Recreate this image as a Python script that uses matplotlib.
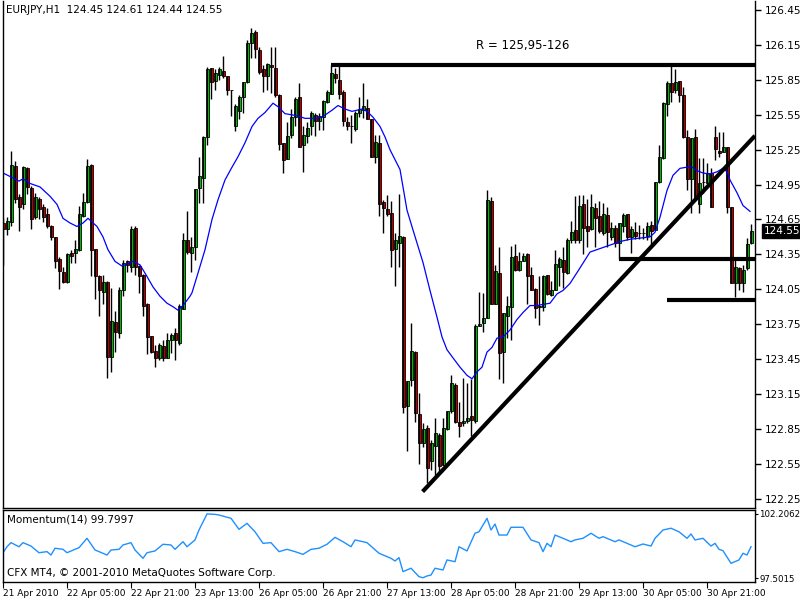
import matplotlib
matplotlib.use("Agg")
import matplotlib.pyplot as plt
import matplotlib.transforms as mtransforms
import numpy as np

plt.rcParams['font.family'] = ['Liberation Sans Narrow', 'DejaVu Sans']

# EURJPY H1 candles
opens = [124.62, 124.57, 124.63, 125.11, 124.84, 124.78, 125.09, 124.92, 124.67, 124.83,
         124.76, 124.70, 124.59, 124.50, 124.31, 124.20, 124.11, 124.36, 124.36, 124.39,
         124.68, 124.80, 125.12, 124.40, 124.16, 124.03, 124.11, 123.47, 123.77, 123.67,
         124.04, 124.29, 124.24, 124.58, 124.25, 124.17, 123.92, 123.65, 123.52, 123.46,
         123.56, 123.46, 123.61, 123.67, 123.59, 123.88, 124.47, 124.36, 124.41, 124.92,
         125.01, 125.36, 125.95, 125.84, 125.89, 125.93, 125.88, 125.76, 125.45, 125.58,
         125.70, 125.83, 126.17, 126.26, 126.11, 125.94, 125.88, 125.98, 125.95, 125.72,
         125.31, 125.17, 125.38, 125.53, 125.70, 125.29, 125.37, 125.45, 125.55, 125.50,
         125.53, 125.66, 125.73, 125.90, 125.85, 125.75, 125.49, 125.45, 125.43, 125.57,
         125.59, 125.61, 125.51, 125.19, 125.31, 124.80, 124.74, 124.71, 124.40, 124.45,
         124.50, 123.05, 123.27, 123.51, 122.98, 122.73, 122.86, 122.57, 122.70, 122.80,
         122.54, 122.85, 123.00, 123.23, 122.91, 122.90, 122.92, 122.96, 122.92, 123.73,
         123.76, 123.80, 124.81, 123.92, 124.19, 123.51, 123.82, 123.90, 124.34, 124.22,
         124.29, 124.35, 124.17, 124.05, 123.90, 123.90, 124.17, 124.00, 124.04, 124.24,
         124.30, 124.19, 124.47, 124.56, 124.47, 124.78, 124.59, 124.57, 124.75, 124.68,
         124.53, 124.69, 124.50, 124.58, 124.45, 124.59, 124.70, 124.50, 124.54, 124.53,
         124.53, 124.51, 124.60, 124.56, 124.97, 125.18, 125.64, 125.82, 125.76, 125.84,
         125.72, 125.36, 125.00, 125.36, 124.78, 124.97, 124.96, 125.05, 125.36, 125.24,
         125.23, 125.27, 124.76, 124.10, 124.23, 124.10, 124.23, 124.45]
highs = [124.66, 124.67, 125.24, 125.15, 124.87, 125.11, 125.10, 124.94, 124.88, 124.84,
         124.78, 124.75, 124.60, 124.50, 124.33, 124.24, 124.36, 124.39, 124.47, 124.77,
         124.88, 125.17, 125.13, 124.40, 124.17, 124.17, 124.12, 124.06, 123.86, 124.07,
         124.30, 124.30, 124.59, 124.59, 124.26, 124.18, 123.93, 123.65, 123.57, 123.59,
         123.61, 123.67, 123.67, 123.72, 123.92, 124.53, 124.72, 124.50, 124.91, 125.19,
         125.37, 125.96, 125.95, 125.94, 125.96, 126.06, 125.88, 125.76, 125.64, 125.72,
         125.83, 126.19, 126.30, 126.28, 126.13, 125.98, 126.00, 126.13, 126.13, 125.73,
         125.31, 125.49, 125.60, 125.70, 125.82, 125.45, 125.49, 125.58, 125.57, 125.57,
         125.68, 125.76, 125.98, 125.95, 125.97, 125.76, 125.53, 125.55, 125.58, 125.70,
         125.82, 125.69, 125.51, 125.38, 125.38, 124.82, 124.86, 124.81, 124.53, 124.87,
         124.51, 123.26, 123.76, 123.52, 123.16, 122.90, 122.88, 122.75, 122.94, 122.81,
         122.94, 123.00, 123.31, 123.24, 123.08, 123.29, 123.24, 123.28, 123.75, 124.03,
         124.02, 124.90, 124.84, 124.26, 124.41, 123.85, 123.99, 124.42, 124.44, 124.37,
         124.36, 124.36, 124.24, 124.06, 124.16, 124.17, 124.17, 124.12, 124.39, 124.33,
         124.41, 124.49, 124.64, 124.85, 124.86, 124.86, 124.83, 124.87, 124.79, 124.81,
         124.79, 124.76, 124.63, 124.60, 124.62, 124.71, 124.70, 124.59, 124.63, 124.60,
         124.58, 124.63, 124.64, 124.97, 125.29, 125.66, 125.84, 125.98, 125.94, 125.84,
         125.79, 125.42, 125.35, 125.43, 125.18, 125.18, 125.14, 125.09, 125.45, 125.40,
         125.40, 125.27, 124.76, 124.33, 124.24, 124.26, 124.49, 124.61]
lows = [124.26, 124.52, 124.59, 124.79, 124.55, 124.74, 124.87, 124.57, 124.65, 124.65,
        124.63, 124.58, 124.47, 124.23, 124.05, 124.10, 124.10, 124.28, 124.28, 124.38,
        124.67, 124.79, 124.16, 123.97, 123.82, 123.92, 123.29, 123.34, 123.51, 123.63,
        123.99, 124.20, 124.20, 124.17, 124.02, 123.82, 123.49, 123.50, 123.38, 123.44,
        123.43, 123.46, 123.50, 123.44, 123.57, 123.88, 124.35, 124.20, 124.30, 124.79,
        124.79, 125.29, 125.69, 125.76, 125.85, 125.87, 125.72, 125.54, 125.41, 125.51,
        125.57, 125.82, 126.04, 126.04, 125.90, 125.75, 125.76, 125.74, 125.70, 125.25,
        125.05, 125.17, 125.35, 125.45, 125.27, 125.06, 125.31, 125.38, 125.37, 125.42,
        125.42, 125.65, 125.73, 125.82, 125.69, 125.45, 125.42, 125.31, 125.41, 125.53,
        125.52, 125.51, 125.19, 125.14, 124.68, 124.53, 124.68, 124.24, 124.08, 124.24,
        122.99, 122.66, 123.22, 122.91, 122.55, 122.69, 122.38, 122.50, 122.45, 122.47,
        122.54, 122.84, 122.99, 122.90, 122.78, 122.87, 122.90, 122.79, 122.90, 123.73,
        123.68, 123.80, 123.92, 123.92, 123.28, 123.24, 123.63, 123.61, 124.21, 124.21,
        124.29, 123.92, 124.04, 123.80, 123.74, 123.86, 124.00, 123.99, 124.04, 124.08,
        124.06, 124.18, 124.45, 124.45, 124.45, 124.35, 124.41, 124.56, 124.41, 124.53,
        124.52, 124.41, 124.47, 124.41, 124.31, 124.54, 124.47, 124.36, 124.48, 124.48,
        124.48, 124.47, 124.43, 124.56, 124.96, 125.17, 125.54, 125.66, 125.74, 125.66,
        125.35, 124.90, 124.71, 124.84, 124.71, 124.88, 124.96, 124.76, 125.16, 125.19,
        125.23, 124.71, 124.10, 123.98, 124.04, 124.03, 124.22, 124.44]
closes = [124.57, 124.64, 125.12, 124.83, 124.76, 125.10, 124.93, 124.65, 124.84, 124.74,
          124.67, 124.59, 124.50, 124.29, 124.21, 124.11, 124.35, 124.34, 124.40, 124.70,
          124.80, 125.11, 124.39, 124.16, 124.04, 124.11, 123.47, 123.78, 123.68, 124.04,
          124.28, 124.26, 124.57, 124.24, 124.16, 123.91, 123.64, 123.51, 123.46, 123.57,
          123.46, 123.61, 123.66, 123.61, 123.91, 124.47, 124.37, 124.41, 124.91, 125.02,
          125.36, 125.94, 125.83, 125.91, 125.94, 125.88, 125.76, 125.76, 125.63, 125.70,
          125.83, 126.17, 126.25, 126.12, 125.92, 125.88, 125.99, 125.96, 125.72, 125.30,
          125.16, 125.37, 125.53, 125.69, 125.27, 125.38, 125.44, 125.57, 125.50, 125.54,
          125.67, 125.75, 125.91, 125.87, 125.73, 125.50, 125.45, 125.45, 125.57, 125.60,
          125.63, 125.51, 125.19, 125.32, 124.78, 124.75, 124.70, 124.39, 124.47, 124.51,
          123.04, 123.26, 123.52, 122.99, 122.73, 122.85, 122.51, 122.73, 122.81, 122.53,
          122.86, 123.00, 123.24, 122.91, 122.87, 122.92, 122.94, 122.93, 123.73, 123.75,
          123.80, 124.82, 123.92, 124.21, 123.50, 123.85, 123.91, 124.33, 124.22, 124.29,
          124.34, 124.16, 124.04, 123.89, 123.91, 124.16, 124.01, 124.04, 124.27, 124.31,
          124.20, 124.47, 124.54, 124.47, 124.77, 124.58, 124.55, 124.76, 124.66, 124.55,
          124.70, 124.54, 124.58, 124.45, 124.62, 124.69, 124.50, 124.57, 124.51, 124.53,
          124.53, 124.59, 124.55, 124.97, 125.19, 125.65, 125.82, 125.75, 125.83, 125.72,
          125.36, 125.00, 125.35, 124.84, 124.96, 124.97, 125.05, 124.76, 125.26, 125.22,
          125.27, 124.76, 124.10, 124.24, 124.10, 124.22, 124.44, 124.55]

# blue moving average, sampled along the line
ma_bar = [0, 1.75, 4, 5, 6.75, 9.25, 11.75, 13.5, 15, 16.75, 18.5, 20, 21.25, 23.5, 25,
          26.25, 28, 29.75, 31.25, 32.5, 34.25, 36, 37.5, 39.25, 41, 42.5, 43.75, 45,
          46.75, 47.25, 48.75, 50.5, 52.25, 53.75, 55.5, 57.25, 58.75, 60.5, 62.25, 63.75,
          65.5, 67.5, 68.75, 70.5, 72.25, 73.75, 75.5, 78, 79.75, 82.25, 83.75, 85.5,
          87.25, 89.75, 91, 92.5, 94.25, 95.5, 96.75, 99.25, 101, 102.5, 105, 106.75,
          108.5, 109.75, 111, 112.5, 114.25, 116, 117.25, 118.5, 119.75, 121, 122.25,
          123.5, 125, 126.75, 128.5, 130, 131.75, 133.5, 135, 136.75, 138.5, 140, 141.75,
          144, 146.75, 149.25, 151.75, 154.25, 156.75, 159.25, 161.75, 163, 164.25, 166,
          167.5, 169.25, 171, 172.25, 173.5, 175, 176.75, 178.5, 180, 181, 181.75, 183.5,
          185, 186.75]
ma_val = [125.05, 125.02, 124.98, 125.00, 124.96, 124.93, 124.85, 124.78, 124.66, 124.62,
          124.59, 124.62, 124.66, 124.59, 124.50, 124.39, 124.29, 124.25, 124.27, 124.29,
          124.26, 124.16, 124.07, 123.99, 123.93, 123.90, 123.87, 123.91, 123.99, 124.02,
          124.19, 124.39, 124.65, 124.82, 124.99, 125.10, 125.19, 125.31, 125.45, 125.52,
          125.57, 125.65, 125.62, 125.56, 125.55, 125.54, 125.52, 125.52, 125.53, 125.59,
          125.63, 125.60, 125.58, 125.60, 125.58, 125.53, 125.45, 125.36, 125.25, 125.08,
          124.73, 124.56, 124.28, 124.04, 123.81, 123.64, 123.53, 123.46, 123.38, 123.31,
          123.28, 123.34, 123.38, 123.51, 123.55, 123.63, 123.64, 123.70, 123.79, 123.85,
          123.91, 123.91, 123.92, 123.93, 124.01, 124.04, 124.10, 124.22, 124.37, 124.40,
          124.43, 124.46, 124.48, 124.49, 124.50, 124.54, 124.67, 124.90, 125.03, 125.09,
          125.10, 125.10, 125.07, 125.05, 125.04, 125.06, 125.09, 125.06, 124.99, 124.88,
          124.77, 124.72]

# Momentum(14) sub-window
mom_bar = [0, 1, 2, 4, 5, 7, 9, 11, 12, 13, 15, 16, 18, 19, 21, 23, 24, 26, 27, 29,
           30, 32, 33, 35, 36, 38, 40, 42, 43, 45, 46, 48, 49, 51, 53, 54, 57, 59, 61, 63,
           65, 67, 69, 71, 73, 75, 77, 79, 81, 83, 85, 87, 88, 91, 94, 97, 98, 99, 100, 102,
           104, 105, 106, 107, 108, 110, 111, 113, 114, 116, 118, 119, 121, 122, 123, 124,
           126, 127, 130, 132, 134, 135, 136, 137, 138, 140, 142, 143, 145, 147, 149, 150,
           153, 154, 156, 158, 160, 162, 163, 165, 167, 169, 171, 172, 173, 175, 177, 178,
           179, 180, 182, 184, 185, 186, 187]
mom_val = [99.36, 99.80, 100.10, 99.80, 100.10, 99.85, 99.36, 99.44, 99.19, 99.69,
           99.61, 99.36, 99.61, 99.73, 100.42, 99.56, 99.44, 99.19, 99.56, 99.61,
           99.93, 100.10, 99.56, 98.95, 99.36, 99.49, 99.98, 99.93, 99.61, 100.17,
           99.80, 100.30, 101.03, 102.21, 102.18, 102.13, 101.89, 101.08, 101.52, 100.90,
           100.05, 100.10, 99.44, 99.61, 99.44, 99.24, 99.61, 99.69, 99.98, 100.49,
           100.17, 99.80, 100.30, 100.10, 99.32, 98.95, 98.75, 99.00, 97.97, 98.22,
           97.60, 97.52, 97.65, 97.72, 98.22, 98.09, 98.83, 98.70, 99.80, 99.49,
           100.79, 100.90, 101.89, 101.03, 101.47, 100.66, 100.66, 101.23, 101.23, 100.30,
           100.10, 99.44, 100.05, 99.80, 100.66, 100.42, 100.17, 100.30, 100.42, 100.79,
           100.42, 100.54, 100.17, 100.30, 100.05, 99.80, 100.00, 99.85, 100.42, 101.03,
           101.16, 100.90, 100.42, 100.74, 100.30, 100.42, 99.85, 100.05, 99.61, 99.51,
           98.58, 98.83, 99.32, 99.19, 99.80]

# hand drawn lines: resistance, two supports, rising trend line
resistance = 125.98
resistance_from = 82
supports = [124.31, 123.96]
supports_from = [154, 166]
trend_bars = [104.9, 188]
trend_prices = [122.31, 125.37]

price_ticks = [122.25, 122.55, 122.85, 123.15, 123.45, 123.75, 124.05, 124.35,
               124.65, 124.95, 125.25, 125.55, 125.85, 126.15, 126.45]
time_labels = ['21 Apr 2010', '22 Apr 05:00', '22 Apr 21:00', '23 Apr 13:00',
               '26 Apr 05:00', '26 Apr 21:00', '27 Apr 13:00', '28 Apr 05:00',
               '28 Apr 21:00', '29 Apr 13:00', '30 Apr 05:00', '30 Apr 21:00']
mom_ticks = [97.5015, 102.2062]

o = np.array(opens)
h = np.array(highs)
l = np.array(lows)
c = np.array(closes)
x = np.arange(len(o))
up = c >= o

fs = 7.5
fig = plt.figure(figsize=(8, 6), dpi=100)
ax = fig.add_axes([2.5 / 800, 92 / 600, 752.5 / 800, 507 / 600])
axm = fig.add_axes([2.5 / 800, 18 / 600, 752.5 / 800, 72 / 600])

# candles
ax.vlines(x, l, h, color='black', lw=1)
ax.bar(x[up], (c - o)[up], bottom=o[up], width=0.75, color='#00e600',
       edgecolor='black', lw=0.6)
ax.bar(x[~up], (c - o)[~up], bottom=o[~up], width=0.75, color='#e00000',
       edgecolor='black', lw=0.6)
ax.plot(ma_bar, ma_val, color='#0000ff', lw=0.9)

ax.hlines(resistance, resistance_from, 189, color='black', lw=3)
for lvl, start in zip(supports, supports_from):
    ax.hlines(lvl, start, 189, color='black', lw=3)
ax.plot(trend_bars, trend_prices, color='black', lw=3, solid_capstyle='butt')
ax.text(130, 126.15, 'R = 125,95-126', fontsize=8.5, ha='center', va='center')

ax.set_xlim(-0.125, 188)
ax.set_ylim(122.169, 126.529)
ax.yaxis.tick_right()
ax.set_yticks(price_ticks)
ax.set_yticklabels(['%.2f' % t for t in price_ticks])
ax.tick_params(axis='y', direction='out', length=4, width=1, labelsize=fs, pad=3)
ax.set_xticks([])
ax.spines['top'].set_visible(False)
for s in ['left', 'right', 'bottom']:
    ax.spines[s].set_linewidth(1)

ax.text(0.004, 0.993, 'EURJPY,H1  124.45 124.61 124.44 124.55', transform=ax.transAxes,
        fontsize=fs, va='top', ha='left')

tr = mtransforms.blended_transform_factory(ax.transAxes, ax.transData)
ax.text(1.012, closes[-1], '%.2f' % closes[-1], transform=tr, fontsize=fs, color='white',
        va='center', ha='left',
        bbox=dict(boxstyle='square,pad=0.2', fc='black', ec='black'))

# momentum window
axm.plot(mom_bar, mom_val, color='#1e90ff', lw=1)
axm.set_xlim(-0.125, 188)
axm.set_ylim(97.208, 102.50)
axm.yaxis.tick_right()
axm.set_yticks(mom_ticks)
axm.set_yticklabels(['%.4f' % t for t in mom_ticks])
axm.tick_params(axis='y', direction='out', length=2, labelsize=6.2, pad=1)
axm.set_xticks(np.arange(0, 188, 16))
axm.set_xticklabels(time_labels, ha='left')
axm.tick_params(axis='x', direction='out', length=4, labelsize=6.5, pad=1)
for s in axm.spines.values():
    s.set_linewidth(1)
axm.text(0.006, 0.94, 'Momentum(14) 99.7997', transform=axm.transAxes, fontsize=fs,
         va='top', ha='left')
axm.text(0.006, 0.05, 'CFX MT4, \u00a9 2001-2010 MetaQuotes Software Corp.',
         transform=axm.transAxes, fontsize=fs, va='bottom', ha='left')

fig.savefig('out.png', dpi=100)
